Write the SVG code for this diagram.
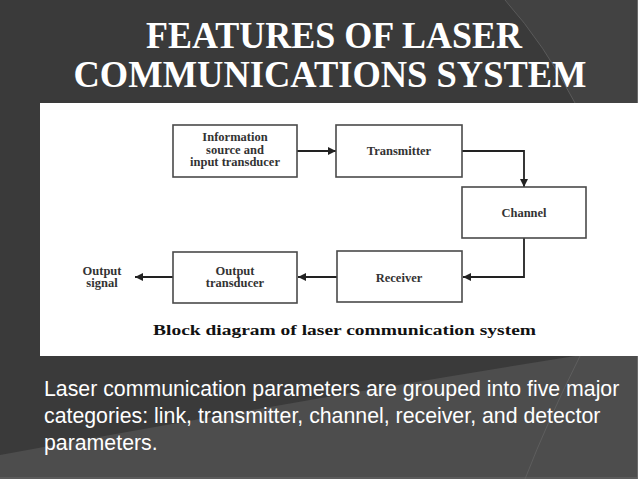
<svg xmlns="http://www.w3.org/2000/svg" width="638" height="479" viewBox="0 0 638 479">
<defs>
<style>
.title{font-family:"Liberation Serif","Times New Roman",serif;font-weight:bold;font-size:37px;fill:#ffffff;text-anchor:middle}
.body{font-family:"Liberation Sans",Arial,sans-serif;font-size:21.3px;fill:#ffffff}
.box{fill:#ffffff;stroke:#4a4a4a;stroke-width:1.6}
.lbl{font-family:"Liberation Serif","Times New Roman",serif;font-weight:bold;font-size:12.5px;fill:#333333;text-anchor:middle}
.cap{font-family:"Liberation Serif","Times New Roman",serif;font-weight:bold;font-size:15px;fill:#111111}
.wire{fill:none;stroke:#222222;stroke-width:1.8}
</style>
<marker id="ah" viewBox="0 0 10 10" refX="10" refY="5" markerWidth="4.5" markerHeight="4.5" orient="auto" markerUnits="strokeWidth">
<path d="M0,0 L10,5 L0,10 z" fill="#222222"/>
</marker>
</defs>
<g id="background">
<rect x="0" y="0" width="638" height="479" fill="#3a3a3a"/>
<path d="M505,0 Q545,45 575,103 L638,103 L638,0 z" fill="#424242"/>
<path d="M505,0 Q545,45 575,103" fill="none" stroke="#5a5a5a" stroke-width="1"/>
<path d="M0,455 Q300,400 575,356 L638,356 L638,479 L0,479 z" fill="#4d4d4d"/>
<path d="M580,356 Q548,420 525,479" fill="none" stroke="#5e5e5e" stroke-width="1"/>
<line x1="637.5" y1="0" x2="637.5" y2="479" stroke="#6a6a6a" stroke-width="1"/>
<line x1="0" y1="478" x2="638" y2="478" stroke="#6a6a6a" stroke-width="1"/>
</g>
<g id="title">
<text class="title" x="334" y="48" textLength="376" lengthAdjust="spacingAndGlyphs">FEATURES OF LASER</text>
<text class="title" x="330" y="87" textLength="513" lengthAdjust="spacingAndGlyphs">COMMUNICATIONS SYSTEM</text>
</g>
<rect id="panel" x="40" y="103" width="598" height="253" fill="#ffffff"/>
<g id="connectors">
<line class="wire" x1="297" y1="151" x2="336" y2="151" marker-end="url(#ah)"/>
<polyline class="wire" points="462,151 524,151 524,187" marker-end="url(#ah)"/>
<polyline class="wire" points="524,238 524,277 463,277" marker-end="url(#ah)"/>
<line class="wire" x1="337" y1="277" x2="298" y2="277" marker-end="url(#ah)"/>
<line class="wire" x1="173" y1="277" x2="135" y2="277" marker-end="url(#ah)"/>
</g>
<g id="info-source">
<rect class="box" x="173" y="125" width="124" height="52"/>
<text class="lbl" x="235" y="141">Information</text>
<text class="lbl" x="235" y="153.5">source and</text>
<text class="lbl" x="235" y="166">input transducer</text>
</g>
<g id="transmitter">
<rect class="box" x="336" y="125" width="126" height="52"/>
<text class="lbl" x="399" y="155">Transmitter</text>
</g>
<g id="channel">
<rect class="box" x="462" y="187" width="124" height="51"/>
<text class="lbl" x="524" y="217">Channel</text>
</g>
<g id="receiver">
<rect class="box" x="337" y="251" width="125" height="51"/>
<text class="lbl" x="399" y="282">Receiver</text>
</g>
<g id="output-transducer">
<rect class="box" x="173" y="252" width="124" height="51"/>
<text class="lbl" x="235" y="274.5">Output</text>
<text class="lbl" x="235" y="287">transducer</text>
</g>
<g id="output-signal">
<text class="lbl" x="102" y="274.5">Output</text>
<text class="lbl" x="102" y="287">signal</text>
</g>
<text class="cap" x="153" y="335" textLength="383" lengthAdjust="spacingAndGlyphs">Block diagram of laser communication system</text>
<g id="body-text">
<text class="body" x="44" y="396">Laser communication parameters are grouped into five major</text>
<text class="body" x="44" y="423">categories: link, transmitter, channel, receiver, and detector</text>
<text class="body" x="44" y="450">parameters.</text>
</g>
</svg>
